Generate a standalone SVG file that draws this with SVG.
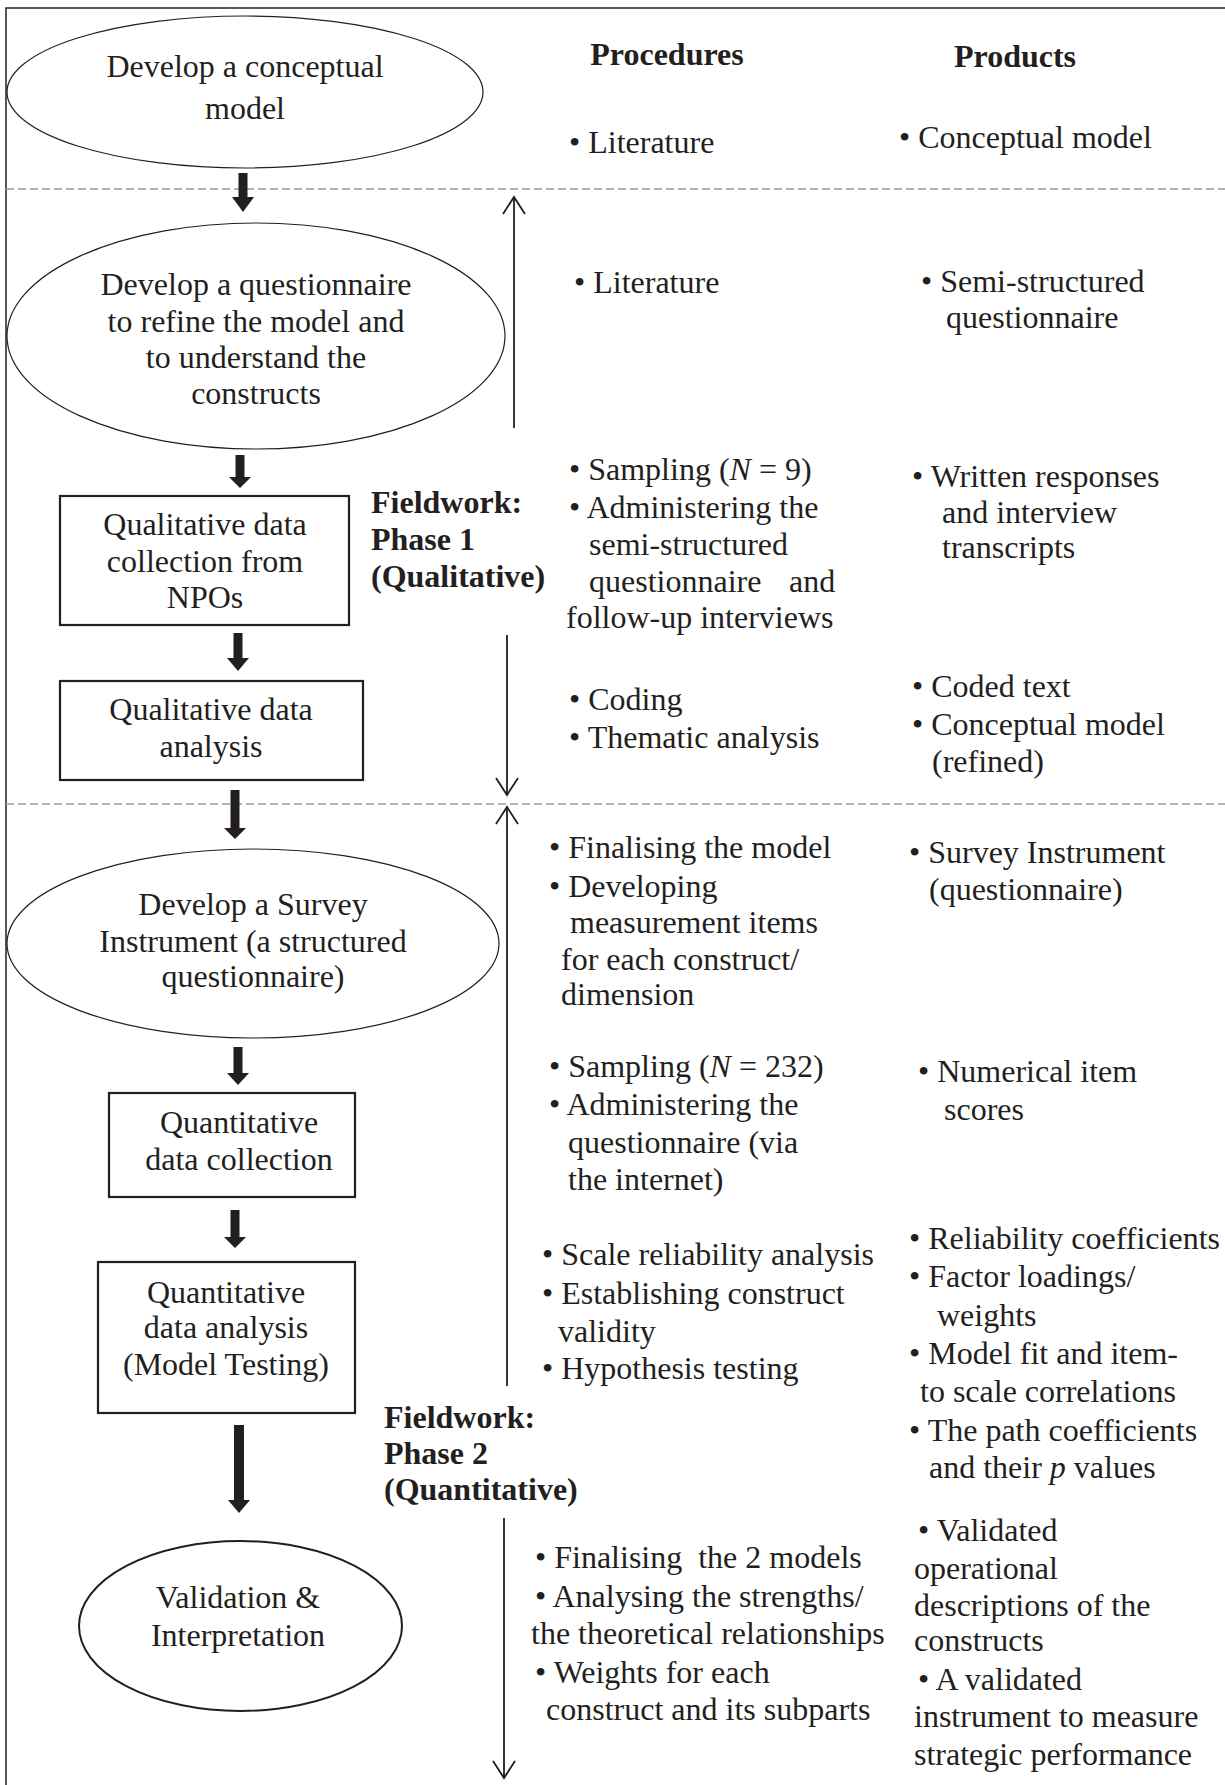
<svg xmlns="http://www.w3.org/2000/svg" width="1225" height="1785" viewBox="0 0 1225 1785">
<style>
  text { font-family: "Liberation Serif", "Times New Roman", serif; font-size: 32px; fill: #231f20; }
  .c { text-anchor: middle; }
  .b { font-weight: bold; }
  .shape { fill: none; stroke: #231f20; }
  .ell { stroke-width: 1.2; }
  .box { stroke-width: 2.2; }
  .dash { stroke: #9a9a9a; stroke-width: 1.6; stroke-dasharray: 8 4; fill: none; }
  .thick { fill: #231f20; stroke: none; }
  .thin { stroke: #231f20; stroke-width: 1.8; fill: none; marker-end: url(#open); }
  .frame { stroke: #231f20; stroke-width: 1.5; fill: none; }
</style>
<defs>
  <marker id="open" viewBox="-1 -1 20 24" refX="17" refY="11" markerWidth="20" markerHeight="24" markerUnits="userSpaceOnUse" orient="auto" overflow="visible">
    <path d="M0,0 L17,11 L0,22" fill="none" stroke="#231f20" stroke-width="1.8"/>
  </marker>
</defs>
<rect width="1225" height="1785" fill="#ffffff"/>
<path class="frame" d="M6,1785 V8 H1225"/>

<!-- Column headings -->
<g id="headings">
  <text class="b c" x="667" y="65">Procedures</text>
  <text class="b c" x="1015" y="67">Products</text>
</g>

<!-- Phase separators -->
<g id="separators">
  <line class="dash" x1="6" y1="189" x2="1225" y2="189"/>
  <line class="dash" x1="6" y1="804" x2="1225" y2="804"/>
</g>

<!-- Nodes -->
<g id="node-conceptual-model">
  <ellipse class="shape ell" cx="245" cy="92" rx="238" ry="76"/>
  <text class="c" x="245" y="77">Develop a conceptual</text>
  <text class="c" x="245" y="119">model</text>
</g>
<g id="node-questionnaire">
  <ellipse class="shape ell" cx="256" cy="336" rx="249" ry="113"/>
  <text class="c" x="256" y="295">Develop a questionnaire</text>
  <text class="c" x="256" y="332">to refine the model and</text>
  <text class="c" x="256" y="368">to understand the</text>
  <text class="c" x="256" y="404">constructs</text>
</g>
<g id="node-qual-collection">
  <rect class="shape box" x="60" y="496" width="289" height="129"/>
  <text class="c" x="205" y="535">Qualitative data</text>
  <text class="c" x="205" y="572">collection from</text>
  <text class="c" x="205" y="608">NPOs</text>
</g>
<g id="node-qual-analysis">
  <rect class="shape box" x="60" y="681" width="303" height="99"/>
  <text class="c" x="211" y="720">Qualitative data</text>
  <text class="c" x="211" y="757">analysis</text>
</g>
<g id="node-survey-instrument">
  <ellipse class="shape ell" cx="253" cy="943.5" rx="246" ry="94.5"/>
  <text class="c" x="253" y="915">Develop a Survey</text>
  <text class="c" x="253" y="952">Instrument (a structured</text>
  <text class="c" x="253" y="987">questionnaire)</text>
</g>
<g id="node-quant-collection">
  <rect class="shape box" x="109" y="1093" width="246" height="104"/>
  <text class="c" x="239" y="1133">Quantitative</text>
  <text class="c" x="239" y="1170">data collection</text>
</g>
<g id="node-quant-analysis">
  <rect class="shape box" x="98" y="1262" width="257" height="151"/>
  <text class="c" x="226" y="1303">Quantitative</text>
  <text class="c" x="226" y="1338">data analysis</text>
  <text class="c" x="226" y="1375">(Model Testing)</text>
</g>
<g id="node-validation">
  <ellipse class="shape" stroke-width="2" cx="240.5" cy="1626" rx="161.5" ry="85"/>
  <text class="c" x="238" y="1608">Validation &amp;</text>
  <text class="c" x="238" y="1646">Interpretation</text>
</g>

<!-- Phase labels -->
<g id="label-phase1">
  <text class="b" x="371" y="513">Fieldwork:</text>
  <text class="b" x="371" y="550">Phase 1</text>
  <text class="b" x="371" y="587">(Qualitative)</text>
</g>
<g id="label-phase2">
  <text class="b" x="384" y="1428">Fieldwork:</text>
  <text class="b" x="384" y="1464">Phase 2</text>
  <text class="b" x="384" y="1500">(Quantitative)</text>
</g>

<!-- Connectors -->
<g id="connectors">
  <path class="thick" d="M238.5,173 H247.5 V197 H254 L243,212 L232,197 H238.5 Z"/>
  <path class="thick" d="M235.5,455 H244.5 V477 H251 L240,488 L229,477 H235.5 Z"/>
  <path class="thick" d="M233.5,633 H242.5 V658 H249 L238,671 L227,658 H233.5 Z"/>
  <path class="thick" d="M230.5,790 H239.5 V828 H246 L235,839 L224,828 H230.5 Z"/>
  <path class="thick" d="M233.5,1047 H242.5 V1073 H249 L238,1085 L227,1073 H233.5 Z"/>
  <path class="thick" d="M230.5,1210 H239.5 V1237 H246 L235,1248 L224,1237 H230.5 Z"/>
  <path class="thick" d="M234,1425 H244 V1500 H250 L239,1513 L228,1500 H234 Z"/>
  <line class="thin" x1="514" y1="428" x2="514" y2="197"/>
  <line class="thin" x1="507" y1="635" x2="507" y2="795"/>
  <line class="thin" x1="507" y1="1386" x2="507" y2="807"/>
  <line class="thin" x1="504" y1="1518" x2="504" y2="1778"/>
</g>

<!-- Procedures column -->
<g id="procedures">
  <text x="569" y="153">• Literature</text>
  <text x="574" y="293">• Literature</text>
  <text x="569" y="480">• Sampling (<tspan font-style="italic">N</tspan> = 9)</text>
  <text x="569" y="518">• Administering the</text>
  <text x="589" y="555">semi-structured</text>
  <text y="592"><tspan x="589">questionnaire</tspan><tspan x="789">and</tspan></text>
  <text x="566" y="628">follow-up interviews</text>
  <text x="569" y="710">• Coding</text>
  <text x="569" y="748">• Thematic analysis</text>
  <text x="549" y="858">• Finalising the model</text>
  <text x="549" y="897">• Developing</text>
  <text x="570" y="933">measurement items</text>
  <text x="561" y="970">for each construct/</text>
  <text x="561" y="1005">dimension</text>
  <text x="549" y="1077">• Sampling (<tspan font-style="italic">N</tspan> = 232)</text>
  <text x="549" y="1115">• Administering the</text>
  <text x="568" y="1153">questionnaire (via</text>
  <text x="568" y="1190">the internet)</text>
  <text x="542" y="1265">• Scale reliability analysis</text>
  <text x="542" y="1304">• Establishing construct</text>
  <text x="558" y="1342">validity</text>
  <text x="542" y="1379">• Hypothesis testing</text>
  <text x="535" y="1568" xml:space="preserve">• Finalising  the 2 models</text>
  <text x="535" y="1607">• Analysing the strengths/</text>
  <text x="531" y="1644">the theoretical relationships</text>
  <text x="535" y="1683">• Weights for each</text>
  <text x="546" y="1720">construct and its subparts</text>
</g>

<!-- Products column -->
<g id="products">
  <text x="899" y="148">• Conceptual model</text>
  <text x="921" y="292">• Semi-structured</text>
  <text x="946" y="328">questionnaire</text>
  <text x="912" y="487">• Written responses</text>
  <text x="942" y="523">and interview</text>
  <text x="942" y="558">transcripts</text>
  <text x="912" y="697">• Coded text</text>
  <text x="912" y="735">• Conceptual model</text>
  <text x="932" y="772">(refined)</text>
  <text x="909" y="863">• Survey Instrument</text>
  <text x="929" y="900">(questionnaire)</text>
  <text x="918" y="1082">• Numerical item</text>
  <text x="944" y="1120">scores</text>
  <text x="909" y="1249">• Reliability coefficients</text>
  <text x="909" y="1287">• Factor loadings/</text>
  <text x="937" y="1326">weights</text>
  <text x="909" y="1364">• Model fit and item-</text>
  <text x="920" y="1402">to scale correlations</text>
  <text x="909" y="1441">• The path coefficients</text>
  <text x="929" y="1478">and their <tspan font-style="italic">p</tspan> values</text>
  <text x="918" y="1541">• Validated</text>
  <text x="914" y="1579">operational</text>
  <text x="914" y="1616">descriptions of the</text>
  <text x="914" y="1651">constructs</text>
  <text x="918" y="1690">• A validated</text>
  <text x="914" y="1727">instrument to measure</text>
  <text x="914" y="1765">strategic performance</text>
</g>
</svg>
